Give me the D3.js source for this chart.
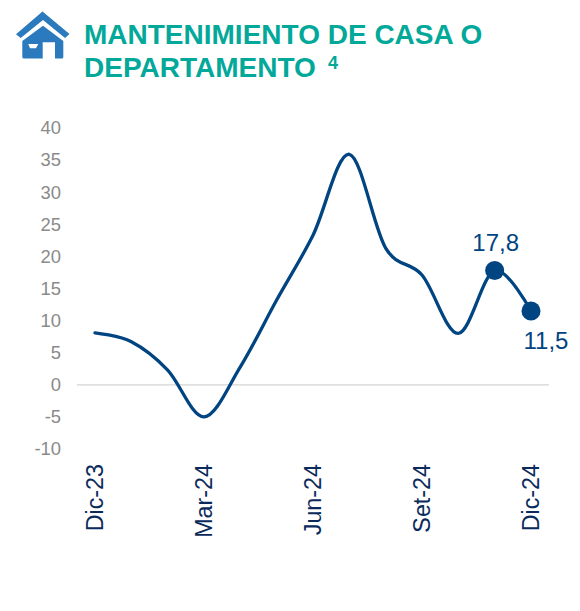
<!DOCTYPE html>
<html><head><meta charset="utf-8">
<script src="https://cdn.jsdelivr.net/npm/d3@7"></script>
<style>html,body{margin:0;padding:0;background:#fff}svg{display:block}text{font-family:"Liberation Sans",Arial,sans-serif}</style>
</head><body><svg id="c" width="580" height="611"></svg>
<script>
const months = ["Dic-23","Ene-24","Feb-24","Mar-24","Abr-24","May-24","Jun-24","Jul-24","Ago-24","Set-24","Oct-24","Nov-24","Dic-24"];
const values = [8.1,6.7,2.3,-5,2.8,13.2,23.3,35.9,21.3,17.1,8,17.8,11.5];
const tickMonths = ["Dic-23","Mar-24","Jun-24","Set-24","Dic-24"];
const yTicks = [40,35,30,25,20,15,10,5,0,-5,-10];
const labelled = [{m:"Nov-24",v:17.8,t:"17,8",dx:1,dy:-20},{m:"Dic-24",v:11.5,t:"11,5",dx:15,dy:38}];
const titleLines = ["MANTENIMIENTO DE CASA O","DEPARTAMENTO"];
const svg = d3.select("#c");
const x = d3.scalePoint().domain(months).range([95,531]);
const y = d3.scaleLinear().domain([-10,40]).range([449,128]);
const navy="#004481", grey="#8a8a8a", teal="#02a899", tickNavy="#0b2a5c";
// icon
const ic = svg.append("g").attr("fill","#2a7abd");
ic.append("path").attr("d","M42.5 11.5 L69.5 34 L65 38 L43 20 L20.7 38 L16 34.3 Z");
ic.append("path").attr("fill-rule","evenodd").attr("d","M43 25.7 L63.3 41 L63.3 57 Q63.3 58.5 62 58.5 L55 58.5 L55 42.3 L42.7 42.3 L42.7 58.5 L24 58.5 Q22.3 58.5 22.3 57 L22.3 41 Z M28.3 44 L38.3 44 L36 48.3 L30 48.3 Z");
// title
const title = svg.append("g").attr("fill",teal).attr("font-weight","700").attr("font-size","28px");
title.append("text").attr("x",84).attr("y",44).text(titleLines[0]);
title.append("text").attr("x",84).attr("y",77).text(titleLines[1]);
title.append("text").attr("x",328).attr("y",69).attr("font-size","18px").text("4");
// y axis
const ya = d3.axisLeft(y).tickValues(yTicks).tickSize(0).tickPadding(0).tickFormat(d=>String(d));
const yg = svg.append("g").attr("transform","translate(61,0)").call(ya);
yg.select(".domain").remove();
yg.selectAll("text").attr("fill",grey).attr("font-size","18.4px").style("font-family",'"Liberation Sans",Arial,sans-serif').attr("dy","0.32em");
// zero line
svg.append("line").attr("x1",77).attr("x2",549).attr("y1",y(0)).attr("y2",y(0)).attr("stroke","#d4d4d4").attr("stroke-width",1.2);
// x axis
const xa = d3.axisBottom(x).tickValues(tickMonths).tickSize(0).tickPadding(0);
const xg = svg.append("g").attr("transform","translate(0,464)").call(xa);
xg.select(".domain").remove();
xg.selectAll("text").attr("fill",tickNavy).attr("font-size","23.3px").style("font-family",'"Liberation Sans",Arial,sans-serif')
  .attr("transform","rotate(-90)").attr("text-anchor","end").attr("x",0).attr("y",0).attr("dy","0.34em");
// line
const line = d3.line().x((d,i)=>x(months[i])).y(d=>y(d)).curve(d3.curveCatmullRom.alpha(0));
svg.append("path").datum(values).attr("d",line).attr("fill","none").attr("stroke",navy).attr("stroke-width",3.3).attr("stroke-linecap","round");
// labelled points
labelled.forEach(p=>{
  svg.append("circle").attr("cx",x(p.m)).attr("cy",y(p.v)).attr("r",9.5).attr("fill",navy);
  svg.append("text").attr("x",x(p.m)+p.dx).attr("y",y(p.v)+p.dy).attr("text-anchor","middle").attr("fill",navy).attr("font-size","24px").text(p.t);
});
</script></body></html>
